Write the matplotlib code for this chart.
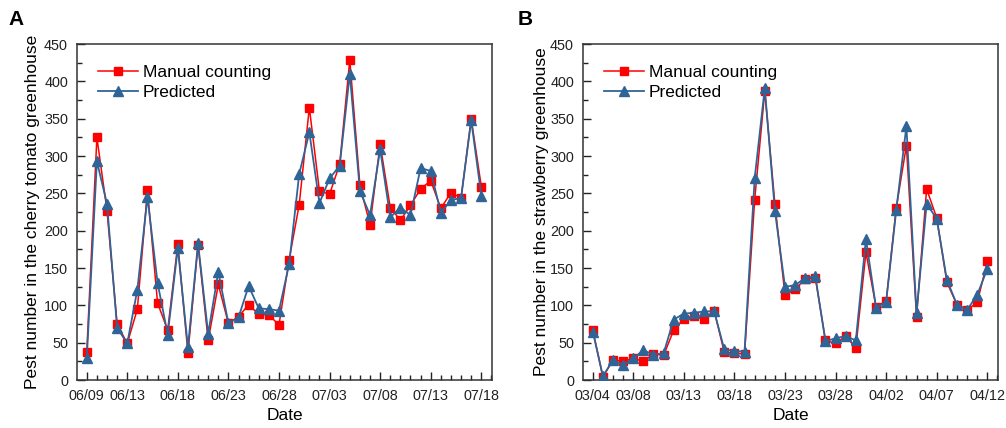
import numpy as np
import pandas as pd
import matplotlib
matplotlib.use('Agg')
import matplotlib.pyplot as plt
import matplotlib.dates as mdates
from matplotlib.ticker import MultipleLocator

plt.rcParams['font.family'] = ['Liberation Sans', 'DejaVu Sans']

# ── Data ────────────────────────────────────────────────────
tomato_dates = pd.date_range('2021-06-09', '2021-07-18', freq='D')
tomato_manual = [37, 325, 227, 75, 49, 95, 254, 103, 67, 182,
                 36, 181, 53, 128, 76, 85, 101, 88, 87, 74,
                 161, 235, 365, 253, 249, 289, 429, 261, 208, 316,
                 231, 214, 234, 256, 267, 230, 251, 244, 350, 259]
tomato_pred = [29, 293, 236, 70, 49, 121, 245, 130, 61, 177,
               44, 183, 62, 145, 76, 84, 126, 96, 95, 93,
               155, 276, 332, 237, 270, 287, 410, 253, 221, 309,
               218, 231, 221, 284, 280, 224, 241, 244, 348, 247]
tomato_ticks = ['06/09', '06/13', '06/18', '06/23', '06/28', '07/03', '07/08', '07/13', '07/18']

straw_dates = pd.date_range('2021-03-04', '2021-04-12', freq='D')
straw_manual = [67, 4, 27, 25, 29, 25, 35, 33, 67, 82,
                86, 82, 93, 37, 36, 35, 241, 387, 236, 114,
                122, 135, 137, 53, 49, 59, 43, 171, 98, 106,
                231, 314, 85, 256, 217, 131, 101, 94, 104, 159]
straw_pred = [65, 5, 27, 20, 29, 40, 34, 36, 81, 89,
              90, 92, 92, 41, 39, 38, 270, 391, 227, 125,
              127, 137, 139, 52, 56, 59, 53, 189, 97, 105,
              228, 340, 90, 236, 216, 134, 101, 94, 114, 149]
straw_ticks = ['03/04', '03/08', '03/13', '03/18', '03/23', '03/28', '04/02', '04/07', '04/12']

RED = '#FF0000'
BLUE = '#2F6497'

fig = plt.figure(figsize=(10.06, 4.28), dpi=100)
ax1 = fig.add_axes([0.0765, 0.112, 0.4125, 0.785])
ax2 = fig.add_axes([0.5795, 0.112, 0.4125, 0.785])

panels = [
    (ax1, tomato_dates, tomato_manual, tomato_pred, tomato_ticks, 2021,
     'Pest number in the cherry tomato greenhouse', 3.0),
    (ax2, straw_dates, straw_manual, straw_pred, straw_ticks, 2021,
     'Pest number in the strawberry greenhouse', 1.0),
]

for ax, dates, manual, pred, ticks, year, ylabel, ypad in panels:
    ax.plot(dates, manual, '-s', color=RED, linewidth=1.1, markersize=5.5,
            markeredgecolor=RED, label='Manual counting', zorder=3)
    ax.plot(dates, pred, '-^', color=BLUE, linewidth=1.3, markersize=6.5,
            markeredgecolor=BLUE, label='Predicted', zorder=4)

    tick_dates = [pd.Timestamp(f'{year}/{t}') for t in ticks]
    ax.set_xticks(tick_dates)
    ax.set_xticklabels(ticks)
    ax.xaxis.set_minor_locator(mdates.DayLocator())
    ax.set_xlim(dates[0] - pd.Timedelta(days=0.97), dates[-1] + pd.Timedelta(days=1.05))

    ax.set_ylim(0, 450)
    ax.yaxis.set_major_locator(MultipleLocator(50))
    ax.yaxis.set_minor_locator(MultipleLocator(25))

    ax.tick_params(which='major', direction='in', length=6, width=1, labelsize=10.4, colors='#222222')
    ax.tick_params(which='minor', direction='in', length=3.5, width=1, colors='#222222')
    ax.tick_params(axis='x', pad=6.5)
    ax.tick_params(axis='y', pad=6.5)
    for sp in ax.spines.values():
        sp.set_linewidth(1.1)
        sp.set_color('#333333')

    ax.set_xlabel('Date', fontsize=12.5, labelpad=3.5)
    ax.set_ylabel(ylabel, fontsize=12.5, labelpad=ypad)

    ax.legend(loc='upper left', fontsize=12.5, frameon=False, handlelength=2.3,
              handletextpad=0.3, labelspacing=0.3, borderaxespad=0.8)

fig.text(0.008, 0.955, 'A', fontsize=15, fontweight='bold', va='center')
fig.text(0.515, 0.955, 'B', fontsize=15, fontweight='bold', va='center')

plt.savefig('out.png', dpi=100)
plt.close()
